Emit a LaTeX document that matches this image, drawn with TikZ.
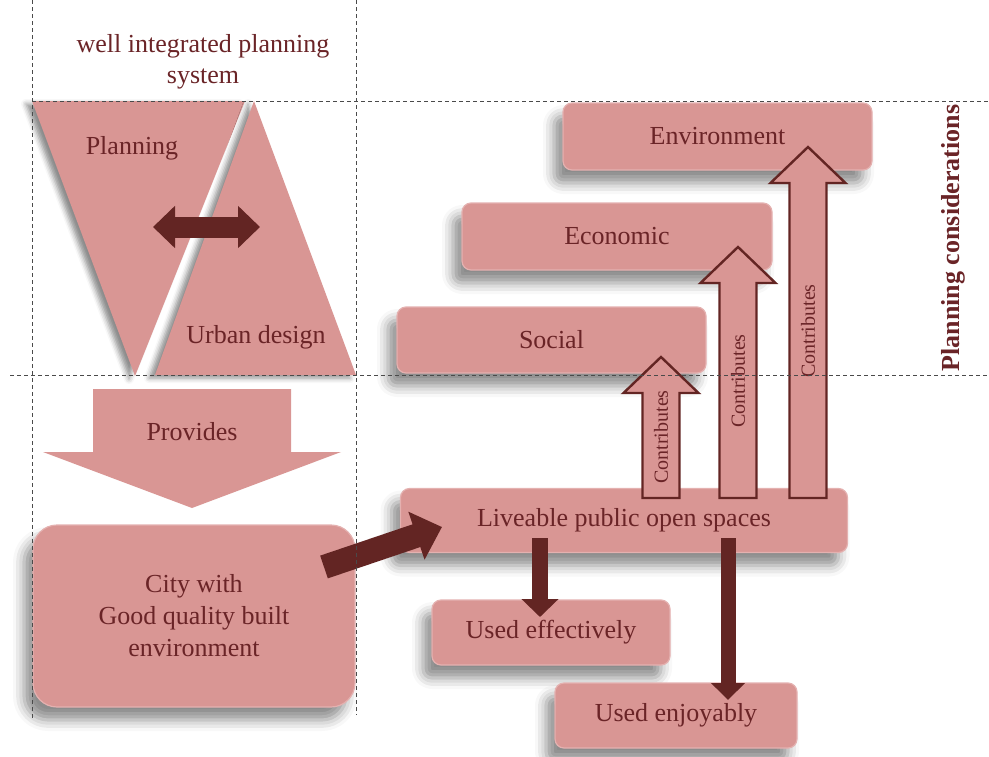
\documentclass[tikz,border=0pt]{standalone}
\usepackage{fontspec}
\setmainfont{Liberation Serif}
\usetikzlibrary{arrows.meta,shadows.blur,calc}

\definecolor{boxfill}{HTML}{D99694}
\definecolor{boxrim}{HTML}{E4B1B0}
\definecolor{deepred}{HTML}{632523}
\definecolor{inkred}{HTML}{6A2427}
\definecolor{guide}{HTML}{4A4A4A}

\tikzset{
  softshadow/.style={blur shadow={shadow xshift=-9pt, shadow yshift=-13pt,
      shadow blur radius=11pt, shadow opacity=45}},
  panel/.style={rounded corners=9pt, fill=boxfill, draw=boxrim, line width=1.2pt,
      text=inkred, font=\fontsize{26}{32}\selectfont, softshadow},
  label/.style={text=inkred, font=\fontsize{26}{31}\selectfont, align=center},
  guideline/.style={draw=guide, line width=0.8pt, dash pattern=on 4pt off 3pt},
  contrib/.style={fill=boxfill, draw=deepred, line width=2.4pt, line join=miter},
  contribtext/.style={text=inkred, rotate=90, font=\fontsize{20}{24}\selectfont},
  triangleshadow/.style={blur shadow={shadow xshift=-6pt, shadow yshift=-3pt,
      shadow blur radius=5pt, shadow opacity=45}},
}

% upward block arrow: centre x, bottom y, tip y
\newcommand\upblock[3]{%
  \draw[contrib] (#1-18.5,#2) -- (#1-18.5,#3+36) -- (#1-37.5,#3+36) -- (#1,#3)
    -- (#1+37.5,#3+36) -- (#1+18.5,#3+36) -- (#1+18.5,#2) -- cycle;}

\begin{document}
\begin{tikzpicture}[x=1pt,y=-1pt]
\useasboundingbox (0,0) rectangle (989,756);

% heading of the planning system column
\node[label] (system) at (203,62) {well integrated planning\\system};

% the two interlocking triangles
\fill[boxfill, triangleshadow] (32,101) -- (245,101) -- (135,376) -- cycle;
\fill[boxfill, triangleshadow] (254,101) -- (356,375) -- (155,375) -- cycle;
\node[label] (planning) at (132,148) {Planning};
\node[label] (urban) at (256,337) {Urban design};
\coordinate (pl) at (153,227);
\coordinate (ud) at (260,227);
\draw[deepred, line width=21pt,
      {Triangle[length=22pt,width=41pt]}-{Triangle[length=22pt,width=41pt]}] (pl) -- (ud);

% "Provides" block arrow
\fill[boxfill] (93,389) -- (291,389) -- (291,452) -- (341,452) -- (192,508)
  -- (43,452) -- (93,452) -- cycle;
\node[label] (provides) at (192,432) {Provides};

% city box
\node[panel, rounded corners=24pt, minimum width=322pt, minimum height=182pt,
      align=center] (city) at (194,616) {City with\\Good quality built\\environment};

% planning considerations
\node[panel, minimum width=309pt, minimum height=67pt] (env) at (717.5,136.5) {Environment};
\node[panel, minimum width=310pt, minimum height=67pt] (eco) at (617,236.5) {Economic};
\node[panel, minimum width=309pt, minimum height=66pt] (soc) at (551.5,340) {Social};

% outcome boxes
\node[panel, minimum width=447pt, minimum height=64pt] (live) at (624,520.5) {Liveable public open spaces};
\node[panel, minimum width=238pt, minimum height=65pt] (eff) at (551,632.5) {Used effectively};
\node[panel, minimum width=242pt, minimum height=65pt] (enj) at (676,715.5) {Used enjoyably};

% city -> liveable spaces
\coordinate (cityout) at (324,567);
\coordinate (livein) at (442,527);
\draw[deepred, line width=24pt, -{Triangle[length=27pt,width=49pt]}] (cityout) -- (livein);

% liveable spaces -> uses
\coordinate (effsrc) at (540,538);
\coordinate (effdst) at (540,617);
\draw[deepred, line width=16pt, -{Triangle[length=18pt,width=36pt]}] (effsrc) -- (effdst);
\coordinate (enjsrc) at (728,538);
\coordinate (enjdst) at (728,700);
\draw[deepred, line width=15pt, -{Triangle[length=17pt,width=33pt]}] (enjsrc) -- (enjdst);

% contributions to the three considerations
\upblock{661}{498}{357}
\node[contribtext] (c1) at (661,437) {Contributes};
\upblock{738}{498}{247}
\node[contribtext] (c2) at (738,381) {Contributes};
\upblock{808}{498}{147}
\node[contribtext] (c3) at (808,331) {Contributes};

% guide lines
\draw[guideline] (32,0) -- (32,718);
\draw[guideline] (356,0) -- (356,715);
\draw[guideline] (32,101) -- (988,101);
\draw[guideline] (10,375) -- (988,375);

\node[text=inkred, rotate=90, font=\bfseries\fontsize{26}{30}\selectfont]
  (considerations) at (953,238) {Planning considerations};
\end{tikzpicture}
\end{document}
